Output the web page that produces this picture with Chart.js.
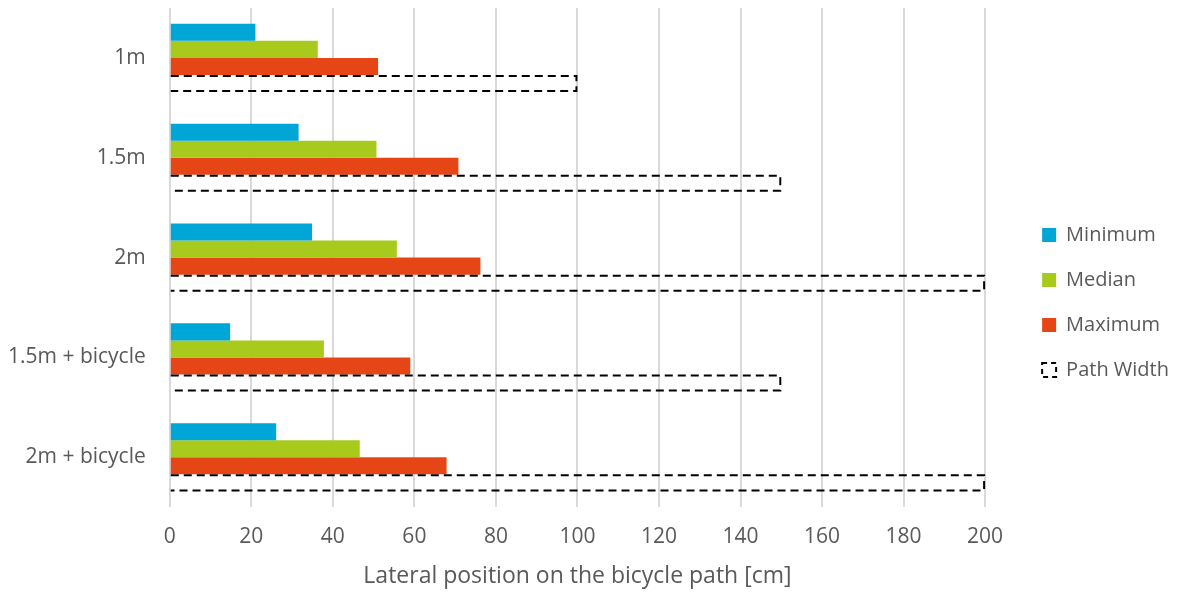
<!DOCTYPE html>
<html>
<head>
<meta charset="utf-8">
<script src="https://cdn.jsdelivr.net/npm/chart.js@4/dist/chart.umd.min.js"></script>
<style>
  html, body { margin: 0; padding: 0; background: #ffffff; }
  #wrap { width: 1179px; height: 592px; position: relative; }
</style>
</head>
<body>
<div id="wrap"><canvas id="chart"></canvas></div>
<script>
// Lateral position of riders for each path configuration (cm)
const categories = ['1m', '1.5m', '2m', '1.5m + bicycle', '2m + bicycle'];
const minimumValues = [21, 31.6, 34.9, 14.8, 26.1];
const medianValues = [36.3, 50.7, 55.7, 37.8, 46.6];
const maximumValues = [51.1, 70.8, 76.2, 59.0, 67.9];
const pathWidthValues = [100, 150, 200, 150, 200];
const xTickValues = [0, 20, 40, 60, 80, 100, 120, 140, 160, 180, 200];

const TEXT = '#595959';
const FONT = "'Open Sans', 'Noto Sans', sans-serif";
const DASH = [8, 5];
const Y_TICK_PAD = 24;

// Outlines the path-width bars with a dashed line (top, far edge, bottom)
const dashedOutline = {
  id: 'dashedOutline',
  afterDatasetsDraw(chart) {
    const idx = chart.data.datasets.findIndex(d => d.label === 'Path Width');
    const meta = chart.getDatasetMeta(idx);
    if (!meta || meta.hidden) return;
    const ctx = chart.ctx;
    ctx.save();
    ctx.strokeStyle = '#000000';
    ctx.lineWidth = 2;
    ctx.setLineDash(DASH);
    meta.data.forEach(bar => {
      const p = bar.getProps(['x', 'y', 'base', 'height'], true);
      const top = p.y - p.height / 2 + 1;
      const bottom = p.y + p.height / 2 - 1;
      ctx.beginPath();
      ctx.moveTo(p.base, top);
      ctx.lineTo(p.x - 1, top);
      ctx.lineTo(p.x - 1, bottom);
      ctx.lineTo(p.base, bottom);
      ctx.stroke();
    });
    ctx.restore();
  }
};

new Chart(document.getElementById('chart'), {
  type: 'bar',
  data: {
    labels: categories,
    datasets: [
      { label: 'Minimum', data: minimumValues, backgroundColor: '#00A6D6' },
      { label: 'Median', data: medianValues, backgroundColor: '#A7CA1D' },
      { label: 'Maximum', data: maximumValues, backgroundColor: '#E64616' },
      { label: 'Path Width', data: pathWidthValues, backgroundColor: 'rgba(0,0,0,0)' }
    ]
  },
  options: {
    indexAxis: 'y',
    responsive: true,
    maintainAspectRatio: false,
    animation: false,
    events: [],
    datasets: {
      bar: { categoryPercentage: 0.683, barPercentage: 1.0, borderWidth: 0 }
    },
    layout: { padding: { top: 8, left: 8, right: 0, bottom: 0 } },
    scales: {
      x: {
        type: 'linear',
        min: 0,
        max: 200,
        afterBuildTicks(scale) { scale.ticks = xTickValues.map(v => ({ value: v })); },
        afterFit(scale) { scale.paddingLeft = 0; scale.paddingRight = 0; },
        grid: { color: '#D9D9D9', lineWidth: 2, drawTicks: false },
        border: { display: false },
        ticks: { color: TEXT, font: { family: FONT, size: 21 }, padding: 17 },
        title: {
          display: true,
          text: 'Lateral position on the bicycle path [cm]',
          color: TEXT,
          font: { family: FONT, size: 23 },
          padding: { top: -4, bottom: 2 }
        }
      },
      y: {
        grid: { display: false, drawTicks: false },
        border: { display: false },
        ticks: { color: TEXT, font: { family: FONT, size: 21 }, padding: Y_TICK_PAD },
        afterFit(scale) {
          scale.paddingTop = 0;
          scale.paddingBottom = 0;
          scale.width -= Y_TICK_PAD;
        }
      },
      gap: {
        type: 'linear',
        axis: 'y',
        position: 'right',
        display: true,
        grid: { display: false, drawTicks: false },
        border: { display: false },
        ticks: { display: false },
        afterFit(scale) { scale.width = 32; scale.paddingTop = 0; scale.paddingBottom = 0; }
      }
    },
    plugins: {
      tooltip: { enabled: false },
      legend: {
        position: 'right',
        align: 'center',
        title: { display: true, text: ' ', font: { size: 5, lineHeight: 1 }, padding: 0 },
        labels: {
          color: TEXT,
          font: { family: FONT, size: 20 },
          boxWidth: 14,
          boxHeight: 14,
          padding: 25,
          generateLabels(chart) {
            const items = Chart.defaults.plugins.legend.labels.generateLabels(chart);
            items.forEach(item => {
              if (item.text === 'Path Width') {
                item.fillStyle = '#ffffff';
                item.strokeStyle = '#000000';
                item.lineWidth = 2;
                item.lineDash = [5, 4];
              } else {
                item.lineWidth = 0;
              }
            });
            return items;
          }
        }
      }
    }
  },
  plugins: [dashedOutline]
});
</script>
</body>
</html>
